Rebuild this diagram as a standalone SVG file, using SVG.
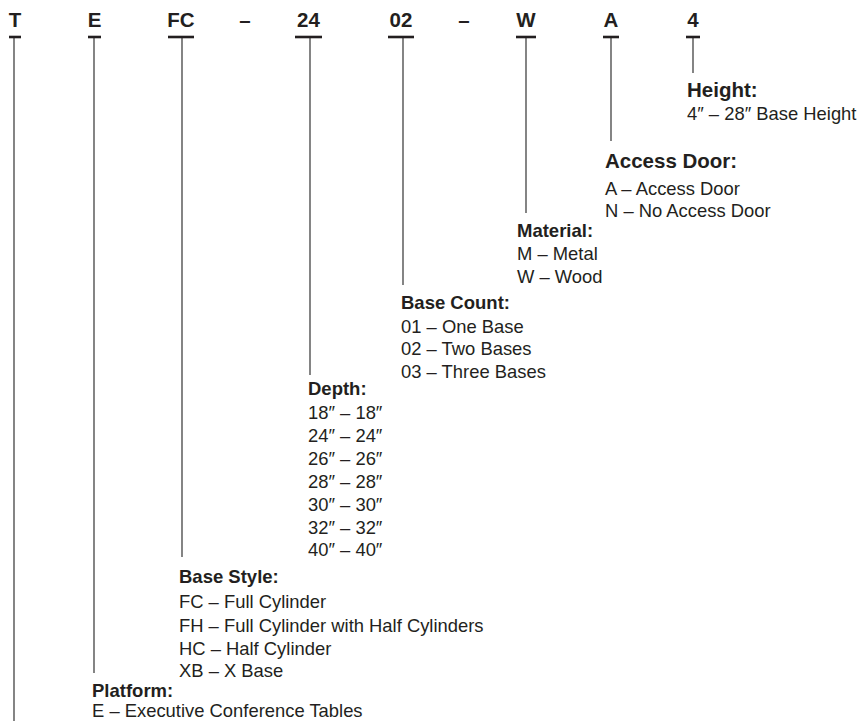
<svg xmlns="http://www.w3.org/2000/svg" width="859" height="721" viewBox="0 0 859 721">
<style>
text{font-family:"Liberation Sans",Arial,sans-serif;fill:#231f20}
.code{font-size:20.5px;font-weight:bold;text-anchor:middle}
.hd{font-size:18.5px;font-weight:bold}
.hd2{font-size:20.5px;font-weight:bold}
.it{font-size:18.4px}
.bar{stroke:#231f20;stroke-width:2.6}
.ln{stroke:#333;stroke-width:1.2;fill:none}
</style>
<rect width="859" height="721" fill="#fff"/>
<g id="connectors">
<line class="ln" x1="14" y1="37" x2="14" y2="721"/>
<line class="ln" x1="94" y1="37" x2="94" y2="673"/>
<line class="ln" x1="182" y1="37" x2="182" y2="557"/>
<line class="ln" x1="310" y1="37" x2="310" y2="375"/>
<line class="ln" x1="403" y1="37" x2="403" y2="285"/>
<line class="ln" x1="526" y1="37" x2="526" y2="213"/>
<line class="ln" x1="611" y1="37" x2="611" y2="141"/>
<line class="ln" x1="693" y1="37" x2="693" y2="73"/>
</g>
<g id="code-T">
<text class="code" x="15" y="27">T</text>
<line class="bar" x1="9" y1="37" x2="21" y2="37"/>
</g>
<g id="code-E">
<text class="code" x="94.5" y="27">E</text>
<line class="bar" x1="88" y1="37" x2="101" y2="37"/>
</g>
<g id="code-FC">
<text class="code" x="181" y="27">FC</text>
<line class="bar" x1="168" y1="37" x2="194" y2="37"/>
</g>
<g id="dash-1"><text class="code" x="245" y="27">–</text></g>
<g id="code-24">
<text class="code" x="308.5" y="27">24</text>
<line class="bar" x1="295" y1="37" x2="322" y2="37"/>
</g>
<g id="code-02">
<text class="code" x="401" y="27">02</text>
<line class="bar" x1="388" y1="37" x2="414" y2="37"/>
</g>
<g id="dash-2"><text class="code" x="464" y="27">–</text></g>
<g id="code-W">
<text class="code" x="526" y="27">W</text>
<line class="bar" x1="516" y1="37" x2="536" y2="37"/>
</g>
<g id="code-A">
<text class="code" x="611" y="27">A</text>
<line class="bar" x1="603" y1="37" x2="619" y2="37"/>
</g>
<g id="code-4">
<text class="code" x="693" y="27">4</text>
<line class="bar" x1="686" y1="37" x2="700" y2="37"/>
</g>
<g id="height">
<text class="hd2" x="687" y="97">Height:</text>
<text class="it" x="687" y="120">4″ – 28″ Base Height</text>
</g>
<g id="access-door">
<text class="hd2" x="605" y="168">Access Door:</text>
<text class="it" x="605" y="195">A – Access Door</text>
<text class="it" x="605" y="217">N – No Access Door</text>
</g>
<g id="material">
<text class="hd" x="517" y="237">Material:</text>
<text class="it" x="517" y="260">M – Metal</text>
<text class="it" x="517" y="283">W – Wood</text>
</g>
<g id="base-count">
<text class="hd" x="401" y="309">Base Count:</text>
<text class="it" x="401" y="333">01 – One Base</text>
<text class="it" x="401" y="355">02 – Two Bases</text>
<text class="it" x="401" y="378">03 – Three Bases</text>
</g>
<g id="depth">
<text class="hd" x="308" y="395">Depth:</text>
<text class="it" x="308" y="419">18″ – 18″</text>
<text class="it" x="308" y="442">24″ – 24″</text>
<text class="it" x="308" y="465">26″ – 26″</text>
<text class="it" x="308" y="488">28″ – 28″</text>
<text class="it" x="308" y="511">30″ – 30″</text>
<text class="it" x="308" y="534">32″ – 32″</text>
<text class="it" x="308" y="556">40″ – 40″</text>
</g>
<g id="base-style">
<text class="hd" x="179" y="583">Base Style:</text>
<text class="it" x="179" y="608">FC – Full Cylinder</text>
<text class="it" x="179" y="632">FH – Full Cylinder with Half Cylinders</text>
<text class="it" x="179" y="655">HC – Half Cylinder</text>
<text class="it" x="179" y="677">XB – X Base</text>
</g>
<g id="platform">
<text class="hd" x="92" y="697">Platform:</text>
<text class="it" x="92" y="717">E – Executive Conference Tables</text>
</g>
</svg>
